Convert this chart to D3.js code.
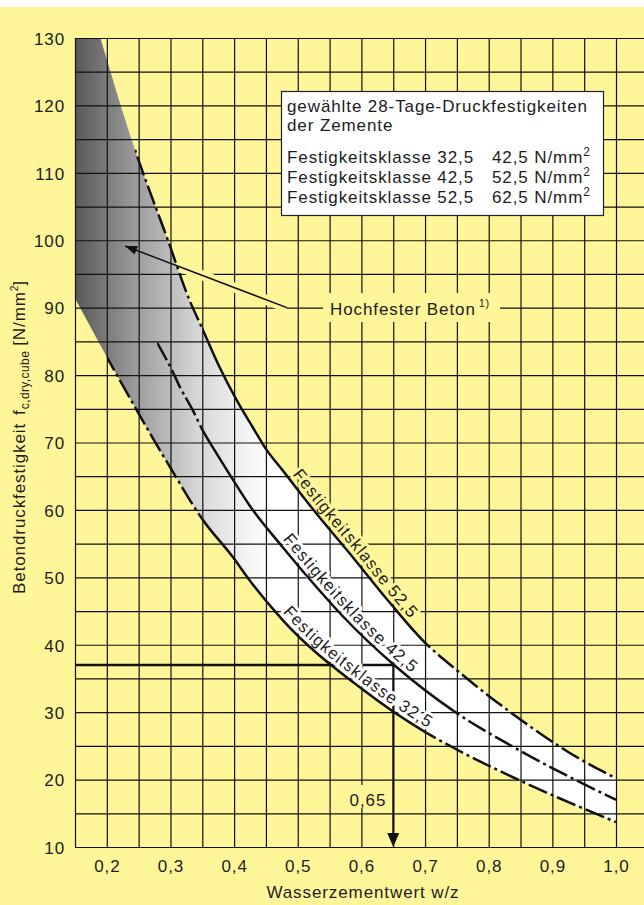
<!DOCTYPE html>
<html><head><meta charset="utf-8">
<script src="https://cdn.jsdelivr.net/npm/d3@7"></script>
<style>
html,body{margin:0;padding:0;background:#fff;}
svg{display:block;}
text{font-family:"Liberation Sans",Arial,sans-serif;fill:#1c1c1c;font-size:17px;letter-spacing:0.9px;}
</style></head><body>
<svg id="chart" width="644" height="905"></svg>
<script>
// ---------------- data ----------------
const xTickValues = [0.2,0.3,0.4,0.5,0.6,0.7,0.8,0.9,1.0];
const xTickLabels = ["0,2","0,3","0,4","0,5","0,6","0,7","0,8","0,9","1,0"];
const yTickValues = [10,20,30,40,50,60,70,80,90,100,110,120,130];
const yTickLabels = ["10","20","30","40","50","60","70","80","90","100","110","120","130"];

// Festigkeitsklasse 52,5 (upper curve)
const wz52 = [0.19,0.244,0.296,0.33,0.349,0.377,0.404,0.429,0.451,0.476,0.529,0.581,0.644,0.699,0.749,0.847,0.946,1.0];
const fc52 = [130,113.5,100,91.1,87.1,81.2,76.3,72.3,68.9,65.9,59.5,53.6,46.3,40.4,36.3,29.1,22.9,20.2];
// Festigkeitsklasse 42,5 (middle curve)
const wz42 = [0.279,0.302,0.315,0.335,0.35,0.369,0.398,0.424,0.476,0.529,0.57,0.655,0.743,0.847,1.0];
const fc42 = [84.8,80.8,78.2,74.8,71.9,68.9,64.5,60.7,54.5,48.6,44.3,36.7,30.3,24.4,17.0];
// Festigkeitsklasse 32,5 (lower curve)
const wz32 = [0.15,0.2,0.247,0.283,0.299,0.351,0.398,0.424,0.476,0.6,0.701,0.749,0.848,1.0];
const fc32 = [91.4,82.7,74.8,68.9,66.4,58.5,53.0,49.6,43.7,33.5,27.0,24.5,19.9,13.7];

// drawn ranges of each curve: [start, solid from, solid to, end]
const range52 = [0.244,0.35,0.70,1.0];
const range42 = [0.279,0.35,0.745,1.0];
const range32 = [0.2,0.35,0.70,1.0];

const curveLabels = ["Festigkeitsklasse 52,5","Festigkeitsklasse 42,5","Festigkeitsklasse 32,5"];
const curveLabelStart = [0.485,0.47,0.47];

const legendTitle = ["gewählte 28-Tage-Druckfestigkeiten","der Zemente"];
const legendClasses = ["Festigkeitsklasse 32,5","Festigkeitsklasse 42,5","Festigkeitsklasse 52,5"];
const legendValues = ["42,5 N/mm","52,5 N/mm","62,5 N/mm"];

const readWz = 0.65, readFc = 37, readLabel = "0,65";
const highLabel = "Hochfester Beton", highNote = "1)";
const highArrowTip = [0.2286, 99.15], highArrowTail = [0.483, 90.0];

const xTitle = "Wasserzementwert w/z";

// ---------------- drawing ----------------
const W = 644, H = 905;
const yellow = "#fff699";
const svg = d3.select("#chart");
const x = d3.scaleLinear().domain([0.15,1.0]).range([75,616]);
const y = d3.scaleLinear().domain([10,130]).range([847,38]);
const line = d3.line().x(d=>x(d[0])).y(d=>y(d[1])).curve(d3.curveMonotoneX);

svg.append("rect").attr("width",W).attr("height",H).attr("fill","#fff");
svg.append("rect").attr("y",7).attr("width",W).attr("height",H-7).attr("fill",yellow);

const defs = svg.append("defs");
const grad = defs.append("linearGradient").attr("id","bandGrad")
  .attr("gradientUnits","userSpaceOnUse")
  .attr("x1",x(0.15)).attr("x2",x(0.46)).attr("y1",0).attr("y2",0);
[[0,"#585858"],[0.3,"#9a9a9a"],[0.62,"#d6d6d6"],[0.88,"#f5f5f5"],[1,"#ffffff"]]
  .forEach(s=>grad.append("stop").attr("offset",s[0]).attr("stop-color",s[1]));

const pts52 = wz52.map((w,i)=>[w,fc52[i]]);
const pts42 = wz42.map((w,i)=>[w,fc42[i]]);
const pts32 = wz32.map((w,i)=>[w,fc32[i]]);

// band between upper and lower curve
const bandD = line(pts52) + line(pts32.slice().reverse()).replace(/^M/,"L")
  + "L" + x(0.15) + "," + y(130) + "Z";
svg.append("path").attr("d",bandD).attr("fill","url(#bandGrad)");

// mask: everything except band (for arrow halo)
const mask = defs.append("mask").attr("id","outsideBand").attr("maskUnits","userSpaceOnUse")
  .attr("x",0).attr("y",0).attr("width",W).attr("height",H);
mask.append("rect").attr("width",W).attr("height",H).attr("fill","#fff");
mask.append("path").attr("d",bandD).attr("fill","#000");

// grid
const gridX = d3.range(0,19).map(i=>+(0.15+i*0.05).toFixed(2));
const gridY = d3.range(10,131,5);
svg.append("g").attr("transform",`translate(0,${y(10)})`)
  .call(d3.axisBottom(x).tickValues(gridX).tickSize(-(y(10)-y(130))).tickFormat(""))
  .call(g=>g.select(".domain").remove())
  .selectAll("line").attr("stroke","#111").attr("stroke-width",1.2);
svg.append("g").attr("transform",`translate(${x(0.15)},0)`)
  .call(d3.axisLeft(y).tickValues(gridY).tickSize(-(x(1.05)-x(0.15))).tickFormat(""))
  .call(g=>g.select(".domain").remove())
  .selectAll("line").attr("stroke","#111").attr("stroke-width",1.2);

// arrow halo (only outside band)
const tip = [x(highArrowTip[0]), y(highArrowTip[1])];
const tail = [x(highArrowTail[0]), y(highArrowTail[1])];
svg.append("line").attr("x1",tip[0]).attr("y1",tip[1]).attr("x2",tail[0]).attr("y2",tail[1])
  .attr("stroke",yellow).attr("stroke-width",10).attr("mask","url(#outsideBand)");

// text backgrounds
svg.append("rect").attr("x",323).attr("y",293).attr("width",177).attr("height",29).attr("fill",yellow);
svg.append("rect").attr("x",346).attr("y",785).attr("width",44).attr("height",23).attr("fill",yellow);

// reading line 0,65 / 37
svg.append("path")
  .attr("d",`M${x(0.15)},${y(readFc)}H${x(readWz)}`)
  .attr("stroke","#111").attr("stroke-width",2.5).attr("fill","none");
svg.append("path")
  .attr("d",`M${x(readWz)},${y(readFc)-1.2}V${y(10)-12}`)
  .attr("stroke","#111").attr("stroke-width",2).attr("fill","none");
svg.append("path")
  .attr("d",`M${x(readWz)},${y(10)}L${x(readWz)-6},${y(10)-14}L${x(readWz)+6},${y(10)-14}Z`)
  .attr("fill","#111");
svg.append("text").attr("x",x(readWz)-7).attr("y",806).attr("text-anchor","end").text(readLabel);

// curve paths (defs, used to build label baselines)
const curveData = [pts52,pts42,pts32];
const ranges = [range52,range42,range32];
curveData.forEach((p,i)=>{
  defs.append("path").attr("id","curve"+i).attr("d",line(p));
});

function lengthAtX(node, tx){
  let lo=0, hi=node.getTotalLength();
  for(let k=0;k<40;k++){
    const mid=(lo+hi)/2;
    if(node.getPointAtLength(mid).x < tx) lo=mid; else hi=mid;
  }
  return lo;
}
// baseline parallel to the curve, shifted to the upper-right side
function offsetPath(node, startX, off){
  const total = node.getTotalLength();
  const s = lengthAtX(node, startX);
  const out = [];
  for(let l=s; l<=total; l+=2){
    const a = node.getPointAtLength(Math.max(0,l-1)), b = node.getPointAtLength(Math.min(total,l+1));
    const p = node.getPointAtLength(l);
    let tx=b.x-a.x, ty=b.y-a.y; const n=Math.hypot(tx,ty)||1; tx/=n; ty/=n;
    out.push([p.x+off*ty, p.y-off*tx]);
  }
  return "M"+out.map(q=>q[0].toFixed(2)+","+q[1].toFixed(2)).join("L");
}
const haloCol = [yellow,"#fff","#fff"];
curveLabels.forEach((lab,i)=>{
  const node = document.getElementById("curve"+i);
  defs.append("path").attr("id","lab"+i).attr("d",offsetPath(node, x(curveLabelStart[i]), 5));
  const t = svg.append("text")
    .attr("stroke",haloCol[i]).attr("stroke-width",6).attr("stroke-linejoin","round")
    .attr("paint-order","stroke");
  t.append("textPath").attr("href","#lab"+i).text(lab);
});

// curves: dash-dot ends and solid middle via clip paths
curveData.forEach((p,i)=>{
  const r = ranges[i];
  const segs = [[r[0],r[1],true],[r[1],r[2],false],[r[2],r[3]+0.01,true]];
  segs.forEach((s,j)=>{
    const id = `clip${i}_${j}`;
    defs.append("clipPath").attr("id",id).append("rect")
      .attr("x",x(s[0])).attr("y",0).attr("width",x(s[1])-x(s[0])).attr("height",H);
    svg.append("path").attr("d",line(p)).attr("fill","none")
      .attr("stroke","#111").attr("stroke-width",2.5)
      .attr("stroke-dasharray",s[2]?"20,4,3,4":null)
      .attr("clip-path",`url(#${id})`);
  });
});

// Hochfester Beton arrow
svg.append("line").attr("x1",tail[0]).attr("y1",tail[1]).attr("x2",tip[0]).attr("y2",tip[1])
  .attr("stroke","#111").attr("stroke-width",1.5);
{
  const dx=tip[0]-tail[0], dy=tip[1]-tail[1], L=Math.hypot(dx,dy);
  const ux=dx/L, uy=dy/L, len=12, hw=4.5;
  const bx=tip[0]-ux*len, by=tip[1]-uy*len;
  svg.append("path").attr("d",`M${tip[0]},${tip[1]}L${bx-uy*hw},${by+ux*hw}L${bx+uy*hw},${by-ux*hw}Z`)
    .attr("fill","#111");
}
const ht = svg.append("text").attr("x",330).attr("y",315);
ht.append("tspan").text(highLabel);
ht.append("tspan").attr("dx",3).attr("dy",-8).style("font-size","11px").style("letter-spacing","0.5px").text(highNote);

// legend box
svg.append("rect").attr("x",281.5).attr("y",91.5).attr("width",322).attr("height",124)
  .attr("fill","#fff").attr("stroke","#222").attr("stroke-width",1.2);
const lg = svg.append("g");
legendTitle.forEach((t,i)=>lg.append("text").attr("x",287).attr("y",112+19*i).text(t));
legendClasses.forEach((t,i)=>{
  lg.append("text").attr("x",287).attr("y",163+20*i).text(t);
  const v = lg.append("text").attr("x",492).attr("y",163+20*i);
  v.append("tspan").text(legendValues[i]);
  v.append("tspan").attr("dy",-7).style("font-size","12px").style("letter-spacing","0px").text("2");
});

// axes labels
svg.append("g").attr("transform",`translate(${x(0.15)},0)`)
  .call(d3.axisLeft(y).tickValues(yTickValues).tickFormat((d,i)=>yTickLabels[i]).tickSize(0).tickPadding(10))
  .call(g=>g.select(".domain").remove())
  .selectAll("text").attr("dy","0.37em").attr("fill","#1c1c1c");
svg.append("g").attr("transform",`translate(0,${y(10)})`)
  .call(d3.axisBottom(x).tickValues(xTickValues).tickFormat((d,i)=>xTickLabels[i]).tickSize(0).tickPadding(12.5))
  .call(g=>g.select(".domain").remove())
  .selectAll("text").attr("fill","#1c1c1c");
svg.selectAll(".tick text").attr("font-family",null).attr("font-size",null);
svg.selectAll("g").attr("font-family",null).attr("font-size",null);

svg.append("text").attr("x",363).attr("y",898).attr("text-anchor","middle").text(xTitle);

const yt = svg.append("text").attr("transform","translate(25,437) rotate(-90)").attr("text-anchor","middle");
yt.append("tspan").text("Betondruckfestigkeit");
yt.append("tspan").attr("dx",8).text("f");
yt.append("tspan").attr("dy",4).style("font-size","12px").style("letter-spacing","0.4px").text("c,dry,cube");
yt.append("tspan").attr("dx",5).attr("dy",-4).text("[N/mm");
yt.append("tspan").attr("dy",-7).style("font-size","10px").style("letter-spacing","0px").text("2");
yt.append("tspan").attr("dy",7).text("]");
</script>
</body></html>
